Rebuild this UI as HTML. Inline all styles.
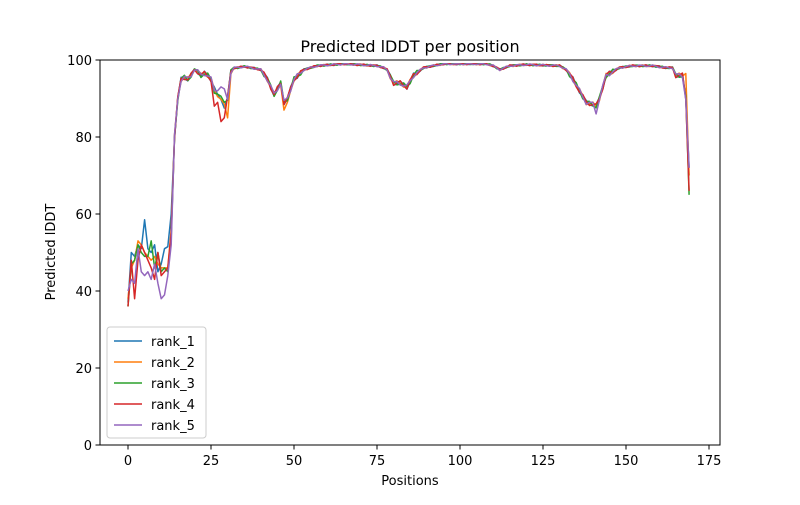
<!DOCTYPE html>
<html><head><meta charset="utf-8"><style>
body{margin:0;background:#fff;}
svg text{font-family:"DejaVu Sans","Liberation Sans",sans-serif;fill:#000;}
</style></head><body>
<svg id="s" width="800" height="500" xmlns="http://www.w3.org/2000/svg">
<rect width="800" height="500" fill="#fff"/>
<g id="lines"></g>
<rect x="100" y="60" width="620" height="385" fill="none" stroke="#000" stroke-width="1"/>
<g id="ticks" font-size="13"></g>
<text x="410" y="52" font-size="16" text-anchor="middle">Predicted lDDT per position</text>
<text x="410" y="485" font-size="13" text-anchor="middle">Positions</text>
<text x="55" y="252" font-size="13" text-anchor="middle" transform="rotate(-90 55 252)">Predicted lDDT</text>
<g id="legend"></g>
</svg>
<script>
const X=v=>128+v*3.32, Y=v=>445-v*3.85;
const ns="http://www.w3.org/2000/svg";
function el(t,a,p,txt){const e=document.createElementNS(ns,t);for(const k in a)e.setAttribute(k,a[k]);if(txt!==undefined)e.textContent=txt;p.appendChild(e);return e;}
const tk=document.getElementById('ticks');
[0,25,50,75,100,125,150,175].forEach(v=>{el('line',{x1:X(v),x2:X(v),y1:445,y2:449.5,stroke:'#000'},tk);el('text',{x:X(v),y:465,'text-anchor':'middle'},tk,v);});
[0,20,40,60,80,100].forEach(v=>{el('line',{x1:95.5,x2:100,y1:Y(v),y2:Y(v),stroke:'#000'},tk);el('text',{x:92,y:Y(v)+5,'text-anchor':'end'},tk,v);});
const kf={0:38,1:45,2:44,3:50,4:49,5:50,6:48,7:48,8:47,9:46,10:45,11:45,12:46,13:55,14:80,15:90,16:95,17:95.5,18:95,19:96,20:97.5,21:97,22:96,23:96.5,24:96,25:95,26:92,27:91,28:90,29:88,30:90,31:97,32:98,33:98,35:98.3,37:98,40:97.5,42:95,44:91,46:94,47:89,48:90,50:95,53:97.5,57:98.5,65:99,75:98.5,77:98,78:97.5,80:94,82:94,84:93,86:96,89:98,95:99,108:99,110:98.5,112:97.5,115:98.5,120:98.8,130:98.5,132:97.5,134:95,136:92,138:89,140:88.5,141:88,142:90,144:96,146:97,148:98,152:98.5,158:98.5,162:98,164:98,165:96,167:96,168:90,169:68};
const keys=Object.keys(kf).map(Number).sort((a,b)=>a-b);
const base=[];
for(let i=0;i<170;i++){let j=0;while(keys[j+1]!==undefined&&keys[j+1]<=i)j++;const a=keys[j],b=keys[j+1];base.push(b===undefined||a===i?kf[a]:kf[a]+(kf[b]-kf[a])*(i-a)/(b-a));}
const early=[
[37,50,49,52,51,58.5,51,50,52,45,47,51,51.5,60],
[38,46,48,53,52,50,49,48,49,47,46,46,46,56],
[36,47,48,52,50,49,49,53,46,50,45,46,45,54],
[36,48,38,48,52,50,48,46,43,50,44,45,46,55],
[40,43,42,51,45,44,45,43,47,42,38,39,44,52]];
const special=[
{169:72,26:93,27:91},
{47:87,48:89,168:96.5,169:70,30:85},
{169:65,29:89},
{28:84,29:85,26:88,27:89,169:66},
{28:93,29:92.5,27:92,141:86,169:72}];
const cols=['#1f77b4','#ff7f0e','#2ca02c','#d62728','#9467bd'];
const g=document.getElementById('lines');
cols.forEach((c,s)=>{let pts=[];for(let i=0;i<170;i++){let v;if(i<14)v=early[s][i];else{v=base[i]+Math.sin(i*1.7+s*2.3)*0.6*(base[i]>97?0.4:1);if(v>99)v=99;}if(special[s][i]!==undefined)v=special[s][i];pts.push(X(i).toFixed(1)+','+Y(v).toFixed(1));}
el('polyline',{points:pts.join(' '),fill:'none',stroke:c,'stroke-width':1.5,'stroke-linejoin':'round'},g);});
const lg=document.getElementById('legend');
el('rect',{x:107,y:327,width:99,height:111,rx:3,fill:'#fff','fill-opacity':0.8,stroke:'#ccc'},lg);
cols.forEach((c,i)=>{const y=341+i*21;el('line',{x1:114,x2:142,y1:y,y2:y,stroke:c,'stroke-width':1.5},lg);el('text',{x:151,y:y+5,'font-size':13},lg,'rank_'+(i+1));});
</script>
</body></html>
